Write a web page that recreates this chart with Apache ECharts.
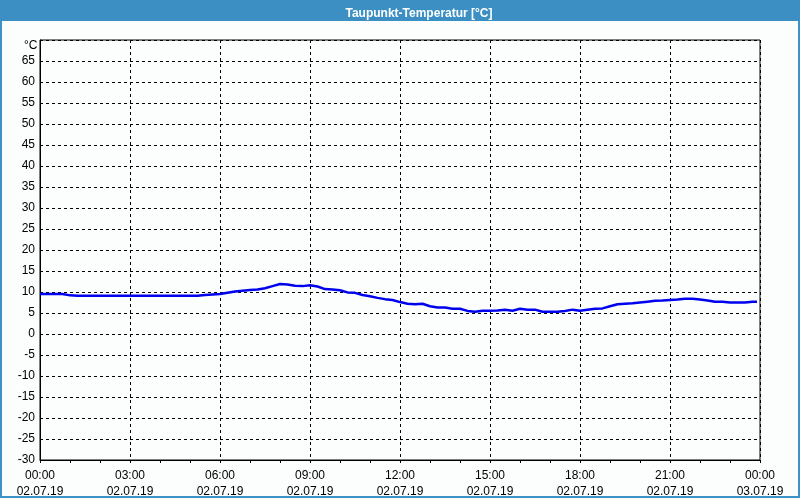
<!DOCTYPE html>
<html>
<head>
<meta charset="utf-8">
<script src="https://cdn.jsdelivr.net/npm/echarts@6/dist/echarts.min.js"></script>
<style>
html,body{margin:0;padding:0;background:#fcfefd;}
#frame{position:absolute;left:0;top:0;width:796px;height:496px;border:2px solid #3d93c6;border-top:none;}
#chart{position:absolute;left:0;top:0;width:800px;height:500px;}
</style>
</head>
<body>
<div id="frame"></div>
<div id="chart"></div>
<script>
// Time in hours since 02.07.19 00:00 (15-minute steps)
const hours = [
  0,0.25,0.5,0.75,1,1.25,1.5,1.75,2,2.25,2.5,2.75,3,3.25,3.5,3.75,4,4.25,4.5,4.75,5,5.25,5.5,5.75,
  6,6.25,6.5,6.75,7,7.25,7.5,7.75,8,8.25,8.5,8.75,9,9.25,9.5,9.75,10,10.25,10.5,10.75,11,11.25,11.5,11.75,
  12,12.25,12.5,12.75,13,13.25,13.5,13.75,14,14.25,14.5,14.75,15,15.25,15.5,15.75,16,16.25,16.5,16.75,17,17.25,17.5,17.75,
  18,18.25,18.5,18.75,19,19.25,19.5,19.75,20,20.25,20.5,20.75,21,21.25,21.5,21.75,22,22.25,22.5,22.75,23,23.25,23.5,23.75,23.9
];
// Dew point temperature in °C
const dewPoint = [
  9.5,9.5,9.5,9.5,9.2,9.1,9.1,9.1,9.1,9.1,9.1,9.1,9.1,9.1,9.1,9.1,9.1,9.1,9.1,9.1,9.1,9.1,9.3,9.4,
  9.5,9.8,10.1,10.3,10.5,10.6,10.9,11.4,11.9,11.8,11.5,11.4,11.6,11.3,10.7,10.6,10.4,9.9,9.8,9.3,9.0,8.6,8.3,8.1,
  7.6,7.2,7.1,7.2,6.6,6.3,6.3,6.0,6.0,5.5,5.3,5.55,5.55,5.6,5.8,5.55,6.0,5.8,5.8,5.3,5.3,5.3,5.5,5.8,
  5.55,5.8,6.0,6.1,6.6,7.1,7.2,7.3,7.5,7.7,7.9,7.95,8.1,8.2,8.4,8.4,8.2,8.0,7.7,7.7,7.5,7.5,7.5,7.7,7.7
];
const xTickLabels = [
  '00:00\n02.07.19','03:00\n02.07.19','06:00\n02.07.19','09:00\n02.07.19','12:00\n02.07.19',
  '15:00\n02.07.19','18:00\n02.07.19','21:00\n02.07.19','00:00\n03.07.19'
];
const yUnit = '°C';
const titleText = 'Taupunkt-Temperatur [°C]';

const FONT = 'Liberation Sans';
const chart = echarts.init(document.getElementById('chart'), null, {renderer:'canvas'});
chart.setOption({
  backgroundColor: 'transparent',
  animation: false,
  graphic: [
    {type:'rect', left:0, top:0, shape:{width:800, height:21}, style:{fill:'#3b8fc3'}, z:-1},
    {type:'text', left:24, top:40, style:{text:yUnit, fill:'#000', font:'12px "Liberation Sans"'}}
  ],
  title: {
    text: titleText, left: 414, top: 3, textAlign: 'center',
    textStyle: {color:'#ffffff', fontFamily: FONT, fontWeight:'bold', fontSize:12}
  },
  grid: {left:40, right:40, top:40, bottom:40, show:true, borderColor:'#000', borderWidth:1, backgroundColor:'#fcfefd'},
  xAxis: {
    type:'value', min:0, max:24, interval:3,
    axisLine:{show:true, onZero:false, lineStyle:{color:'#000', width:1}},
    axisTick:{show:true, length:3, lineStyle:{color:'#000'}},
    minorTick:{show:true, splitNumber:3, length:3, lineStyle:{color:'#000'}},
    splitLine:{show:true, lineStyle:{color:'#000', type:[3,3], width:1}},
    axisLabel:{
      color:'#000', fontFamily:FONT, fontSize:12, lineHeight:16, margin:8,
      formatter: v => xTickLabels[Math.round(v/3)]
    }
  },
  yAxis: {
    type:'value', min:-30, max:70, interval:5,
    axisLine:{show:true, onZero:false, lineStyle:{color:'#000', width:1}},
    axisTick:{show:false},
    splitLine:{show:true, lineStyle:{color:'#000', type:[3,3], width:1}},
    axisLabel:{
      color:'#000', fontFamily:FONT, fontSize:12, margin:5,
      formatter: v => v === 70 ? '' : String(v)
    }
  },
  series: [{
    type:'line', data: hours.map((h,i)=>[h, dewPoint[i]]),
    showSymbol:false, lineStyle:{color:'#0000ee', width:2.5}, itemStyle:{color:'#0000ee'}
  }]
});
</script>
</body>
</html>
